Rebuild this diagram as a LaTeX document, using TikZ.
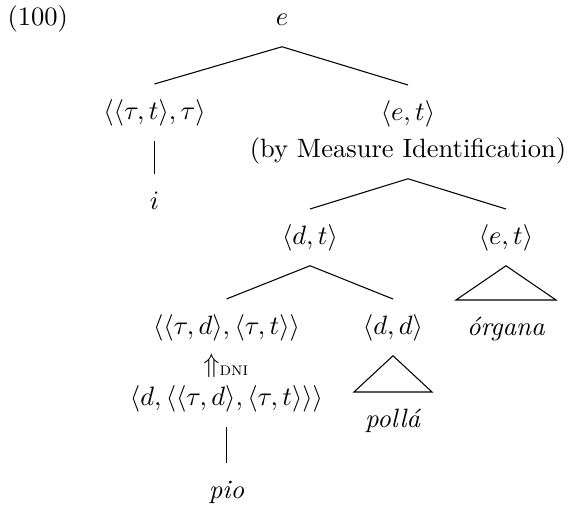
\documentclass[tikz,border=0pt]{standalone}
\usepackage{tikz}
\usetikzlibrary{calc}

\begin{document}
\begin{tikzpicture}[x=0.377pt,y=-0.377pt,
  nodes={anchor=base,text height=7.5pt,text depth=2.5pt,inner ysep=5.5pt}]
 \useasboundingbox (0,0) rectangle (568,509);
 \node[anchor=base west,inner xsep=0pt] (num) at (7,25) {(100)};
 \node (e) at (282,25) {$e$};
 \node (tt) at (154.5,119) {$\langle\langle\tau,t\rangle,\tau\rangle$};
 \node (et) at (408,120) {$\langle e,t\rangle$};
 \node (mi) at (408,157) {(by Measure Identification)};
 \node (i) at (154.5,209) {$i$};
 \node (dt) at (310,244) {$\langle d,t\rangle$};
 \node (et2) at (506,244) {$\langle e,t\rangle$};
 \node (tdtt) at (226.5,334) {$\langle\langle\tau,d\rangle,\langle\tau,t\rangle\rangle$};
 \node (dd) at (393,334) {$\langle d,d\rangle$};
 \node (organa) at (506,335) {\textit{órgana}};
 \node (dni) at (226.5,372) {$\Uparrow_{\mbox{\scriptsize\textsc{dni}}}$};
 \node (low) at (226.5,405) {$\langle d,\langle\langle\tau,d\rangle,\langle\tau,t\rangle\rangle\rangle$};
 \node (polla) at (393,427) {\textit{pollá}};
 \node (pio) at (226.5,498) {\textit{pio}};

 \draw (tt.north) -- (e.south) -- (et.north);
 \draw (tt.south) -- (i.north);
 \draw (dt.north) -- (mi.south) -- (et2.north);
 \draw (tdtt.north) -- (dt.south) -- (dd.north);
 \draw (low.south) -- (pio.north);
 \foreach \up/\word/\w in {et2/organa/50, dd/polla/39} {
 \draw (\up.south) -- ($(\word.north)+(-\w,0)$) -- ($(\word.north)+(\w,0)$) -- cycle;
 }
\end{tikzpicture}
\end{document}
